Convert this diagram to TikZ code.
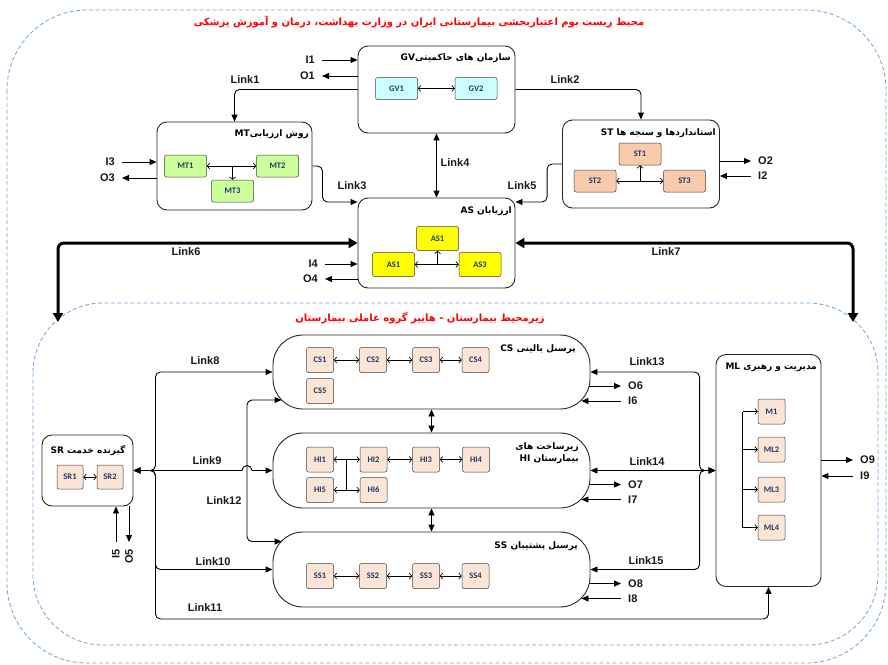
\documentclass[tikz,border=0pt]{standalone}
\usepackage{fontspec}
\setsansfont{Liberation Sans}
\newfontfamily\farsifont[Script=Arabic]{DejaVu Sans}
\newfontfamily\unitfont{Carlito}
\TeXXeTstate=1
\usetikzlibrary{arrows.meta,calc}
\definecolor{regionblue}{HTML}{6FA3DC}
\definecolor{unitnavy}{HTML}{1F3864}
\definecolor{gvcyan}{HTML}{CCFFFF}
\definecolor{mtgreen}{HTML}{CCFF99}
\definecolor{stpeach}{HTML}{F8CBAD}
\definecolor{unitpeach}{HTML}{FBE5D6}
\definecolor{asyellow}{HTML}{FFFF00}
\newcommand{\fatext}[1]{{\farsifont\bfseries\beginR #1\endR}}
\newcommand{\lrword}[1]{\beginL #1\endL}

\begin{document}
\begin{tikzpicture}[x=1pt,y=-1pt,
	region/.style={draw=regionblue,line width=0.8pt,dash pattern=on 4pt off 2.5pt},
	title/.style={text=red,inner sep=0pt,font=\fontsize{10}{12}\selectfont},
	bigbox/.style={draw=black!85,line width=0.9pt,rounded corners=10pt},
	hosbox/.style={bigbox,rounded corners=30pt,minimum width=317pt},
	unit/.style={draw=black!75,line width=0.5pt,rounded corners=2pt,inner sep=0pt,minimum width=27pt,minimum height=25pt,text=unitnavy,font=\unitfont\bfseries\fontsize{8.5}{9}\selectfont},
	wideunit/.style={unit,minimum width=42pt,minimum height=22pt},
	falabel/.style={anchor=east,inner sep=0pt,font=\fontsize{9}{12}\selectfont},
	lab/.style={font=\sffamily\bfseries\fontsize{11}{13}\selectfont,text=black!90,inner sep=1pt},
	link/.style={line width=0.9pt,rounded corners=5pt,-{Triangle[length=7pt,width=6pt]}},
	twolink/.style={link,{Triangle[length=7pt,width=6pt]}-{Triangle[length=7pt,width=6pt]}},
	biglink/.style={line width=3pt,rounded corners=6pt,{Triangle[length=9pt,width=10pt]}-{Triangle[length=9pt,width=10pt]}},
	io/.style={line width=0.9pt,-{Triangle[length=7pt,width=6pt]}},
	sub/.style={line width=0.7pt,{Straight Barb[length=2.5pt,width=6pt]}-{Straight Barb[length=2.5pt,width=6pt]}},
	subto/.style={line width=0.7pt,-{Straight Barb[length=2.5pt,width=6pt]}}]
	
	\useasboundingbox (0,0) rectangle (888,664);
	
	% Draw regions
	\draw[region,rounded corners=80pt] (7,10) rectangle (886,663);
	\draw[region,rounded corners=70pt] (33,303) rectangle (878,645);
	\node[title] (title1) at (419,22) {\fatext{محیط زیست بوم اعتباربخشی بیمارستانی ایران در وزارت بهداشت، درمان و آموزش پزشکی}};
	\node[title] (title2) at (420,318) {\fatext{زیرمحیط بیمارستان - هایپر گروه عاملی بیمارستان}};
	
	% Draw boxes
	\node[bigbox,minimum width=157pt,minimum height=87pt] (GV) at (436.5,89.5) {};
	\node[bigbox,minimum width=155pt,minimum height=88pt] (MT) at (234.5,166) {};
	\node[bigbox,minimum width=157pt,minimum height=88pt] (ST) at (641,164) {};
	\node[bigbox,minimum width=157pt,minimum height=90pt] (AS) at (436.5,243) {};
	\node[hosbox,minimum height=74pt] (CS) at (431.5,372) {};
	\node[hosbox,minimum height=75pt] (HI) at (431.5,470.5) {};
	\node[hosbox,minimum height=75pt] (SS) at (431.5,569.5) {};
	\node[bigbox,minimum width=91pt,minimum height=71pt] (SR) at (87.5,470.5) {};
	\node[bigbox,minimum width=105pt,minimum height=232pt] (ML) at (768.5,470.5) {};
	
	% Names of the boxes
	\node[falabel] (GVname) at (511,58) {\fatext{سازمان های حاکمیتی\lrword{GV}}};
	\node[falabel] (MTname) at (309,134) {\fatext{روش ارزیابی\lrword{MT}}};
	\node[falabel] (STname) at (716,133) {\fatext{استانداردها و سنجه ها \lrword{ST}}};
	\node[falabel] (ASname) at (512,211) {\fatext{ارزیابان \lrword{AS}}};
	\node[falabel] (CSname) at (576,349) {\fatext{پرسنل بالینی \lrword{CS}}};
	\node[falabel,align=right] (HIname) at (579,453) {\fatext{زیرساخت های}\\\fatext{بیمارستان \lrword{HI}}};
	\node[falabel] (SSname) at (578,546) {\fatext{پرسنل پشتیبان \lrword{SS}}};
	\node[falabel,anchor=center] (SRname) at (88,450) {\fatext{گیرنده خدمت \lrword{SR}}};
	\node[falabel] (MLname) at (817,367) {\fatext{مدیریت و رهبری \lrword{ML}}};
	
	% Draw units
	\node[wideunit,fill=gvcyan] (GV1) at (396.5,88.5) {GV1};
	\node[wideunit,fill=gvcyan] (GV2) at (476,88.5) {GV2};
	\node[wideunit,fill=mtgreen] (MT1) at (185.5,166) {MT1};
	\node[wideunit,fill=mtgreen] (MT2) at (277.5,166) {MT2};
	\node[wideunit,fill=mtgreen] (MT3) at (232.5,191) {MT3};
	\node[wideunit,fill=stpeach] (ST1) at (640,154) {ST1};
	\node[wideunit,fill=stpeach] (ST2) at (595,181) {ST2};
	\node[wideunit,fill=stpeach] (ST3) at (684.5,181) {ST3};
	\node[wideunit,fill=asyellow,minimum height=24pt] (ASa) at (437.5,238.5) {AS1};
	\node[wideunit,fill=asyellow,minimum height=24pt] (ASb) at (393.5,264.5) {AS1};
	\node[wideunit,fill=asyellow,minimum height=24pt] (ASc) at (480,264.5) {AS3};
	\node[unit,fill=unitpeach] (CS1) at (320,360) {CS1};
	\node[unit,fill=unitpeach] (CS2) at (373,360) {CS2};
	\node[unit,fill=unitpeach] (CS3) at (426,360) {CS3};
	\node[unit,fill=unitpeach] (CS4) at (475.5,360) {CS4};
	\node[unit,fill=unitpeach] (CS5) at (320,391) {CS5};
	\node[unit,fill=unitpeach] (HI1) at (320,459.5) {HI1};
	\node[unit,fill=unitpeach] (HI2) at (373.5,459.5) {HI2};
	\node[unit,fill=unitpeach] (HI3) at (426,459.5) {HI3};
	\node[unit,fill=unitpeach] (HI4) at (476,459.5) {HI4};
	\node[unit,fill=unitpeach] (HI5) at (320,490) {HI5};
	\node[unit,fill=unitpeach] (HI6) at (373.5,490) {HI6};
	\node[unit,fill=unitpeach] (SS1) at (320,576) {SS1};
	\node[unit,fill=unitpeach] (SS2) at (373,576) {SS2};
	\node[unit,fill=unitpeach] (SS3) at (426,576) {SS3};
	\node[unit,fill=unitpeach] (SS4) at (475.5,576) {SS4};
	\node[unit,fill=unitpeach,minimum width=26pt,minimum height=24pt] (SR1) at (70,477) {SR1};
	\node[unit,fill=unitpeach,minimum width=26pt,minimum height=24pt] (SR2) at (110,477) {SR2};
	\node[unit,fill=unitpeach] (M1) at (771.5,411.5) {M1};
	\node[unit,fill=unitpeach] (ML2) at (771.5,449.5) {ML2};
	\node[unit,fill=unitpeach] (ML3) at (771.5,489.5) {ML3};
	\node[unit,fill=unitpeach] (ML4) at (771.5,527.5) {ML4};
	
	% Arrows inside the boxes
	\draw[sub] (GV1) -- (GV2);
	\draw[sub] (MT1) -- (MT2);
	\draw[subto] (MT3.north |- MT1.east) -- (MT3.north);
	\draw[sub] (ST2) -- (ST3);
	\draw[subto] (ST1.south |- ST2.east) -- (ST1.south);
	\draw[sub] (ASb) -- (ASc);
	\draw[subto] (ASa.south |- ASb.east) -- (ASa.south);
	\foreach \a/\b in {CS1/CS2,CS2/CS3,CS3/CS4,HI1/HI2,HI2/HI3,HI3/HI4,HI5/HI6,SS1/SS2,SS2/SS3,SS3/SS4,SR1/SR2}
		\draw[sub] (\a) -- (\b);
	\draw[line width=0.7pt] ($(HI1.east)!0.5!(HI2.west)$) -- ($(HI5.east)!0.5!(HI6.west)$);
	\draw[line width=0.7pt] ([xshift=-15pt]M1.west) -- ([xshift=-15pt]ML4.west);
	\foreach \u in {M1,ML2,ML3,ML4}
		\draw[subto] ([xshift=-15pt]\u.west) -- (\u.west);
	
	% Draw links, upper part
	\draw[link] (GV.west) -| (MT.north);
	\node[lab] (Link1) at (245,80) {Link1};
	\draw[link] (GV.east) -| (ST.north);
	\node[lab] (Link2) at (565,80) {Link2};
	\draw[link] (MT.east) -- ++(10,0) |- ([yshift=41pt]AS.west);
	\node[lab] (Link3) at (352,186) {Link3};
	\draw[twolink] (GV.south) -- (AS.north);
	\node[lab] (Link4) at (455,163) {Link4};
	\draw[link] (ST.west) -- ++(-15,0) |- ([yshift=41pt]AS.east);
	\node[lab] (Link5) at (522,186) {Link5};
	\coordinate (l6end) at (58,322);
	\coordinate (l7end) at (853,322);
	\draw[biglink] (AS.west) -| (l6end);
	\node[lab] (Link6) at (186,252) {Link6};
	\draw[biglink] (AS.east) -| (l7end);
	\node[lab] (Link7) at (666,252) {Link7};
	
	% Draw links, hospital part
	\draw[twolink] (SR.east) -- ++(22,0) |- (CS.west);
	\node[lab] (Link8) at (205,361) {Link8};
	\draw[twolink,sharp corners] (SR.east) -- (242,470.5) arc[start angle=180,end angle=0,radius=5pt] -- (HI.west);
	\node[lab] (Link9) at (207,461) {Link9};
	\draw[twolink] (SR.east) -- ++(22,0) |- (SS.west);
	\node[lab] (Link10) at (213,562) {Link10};
	\draw[twolink] (SR.east) -- ++(22,0) |- ([yshift=-32pt]ML.south) -- (ML.south);
	\node[lab] (Link11) at (205,608) {Link11};
	\draw[twolink] ([xshift=9pt,yshift=-28pt]CS.west) -| (247,470.5) |- ([xshift=9pt,yshift=28pt]SS.west);
	\node[lab] (Link12) at (224,501) {Link12};
	\draw[twolink] (ML.west) -- ++(-16,0) |- (CS.east);
	\node[lab] (Link13) at (647,362) {Link13};
	\draw[twolink] (ML.west) -- (HI.east);
	\node[lab] (Link14) at (647,462) {Link14};
	\draw[twolink] (ML.west) -- ++(-16,0) |- (SS.east);
	\node[lab] (Link15) at (646,561) {Link15};
	\draw[twolink] (CS.south) -- (HI.north);
	\draw[twolink] (HI.south) -- (SS.north);
	
	% Inputs and outputs
	\node[lab,anchor=east] (I1) at (316,60) {I1};
	\draw[io,shorten <=6pt] (I1.east) -- (I1.east -| GV.west);
	\node[lab,anchor=east] (O1) at (316,76) {O1};
	\draw[io,shorten >=6pt] (O1.east -| GV.west) -- (O1.east);
	\node[lab,anchor=east] (I3) at (116,162) {I3};
	\draw[io,shorten <=6pt] (I3.east) -- (I3.east -| MT.west);
	\node[lab,anchor=east] (O3) at (116,178) {O3};
	\draw[io,shorten >=6pt] (O3.east -| MT.west) -- (O3.east);
	\node[lab,anchor=east] (I4) at (319,264) {I4};
	\draw[io,shorten <=6pt] (I4.east) -- (I4.east -| AS.west);
	\node[lab,anchor=east] (O4) at (319,279) {O4};
	\draw[io,shorten >=6pt] (O4.east -| AS.west) -- (O4.east);
	\node[lab,anchor=west] (O2) at (757,161) {O2};
	\draw[io,shorten >=6pt] (O2.west -| ST.east) -- (O2.west);
	\node[lab,anchor=west] (I2) at (757,176) {I2};
	\draw[io,shorten <=6pt] (I2.west) -- (I2.west -| ST.east);
	\node[lab,anchor=west] (O9) at (859,460) {O9};
	\draw[io,shorten >=6pt] (O9.west -| ML.east) -- (O9.west);
	\node[lab,anchor=west] (I9) at (859,476) {I9};
	\draw[io,shorten <=6pt] (I9.west) -- (I9.west -| ML.east);
	\node[lab,anchor=west] (O6) at (627,386) {O6};
	\draw[io,shorten >=6pt] ([xshift=-1pt,yshift=-14pt]CS.east) -- (O6.west);
	\node[lab,anchor=west] (I6) at (627,401) {I6};
	\draw[io,shorten <=6pt] (I6.west) -- ([xshift=-9pt,yshift=-29pt]CS.east);
	\node[lab,anchor=west] (O7) at (627,484.5) {O7};
	\draw[io,shorten >=6pt] ([xshift=-1pt,yshift=-14pt]HI.east) -- (O7.west);
	\node[lab,anchor=west] (I7) at (627,499.5) {I7};
	\draw[io,shorten <=6pt] (I7.west) -- ([xshift=-9pt,yshift=-29pt]HI.east);
	\node[lab,anchor=west] (O8) at (627,583.5) {O8};
	\draw[io,shorten >=6pt] ([xshift=-1pt,yshift=-14pt]SS.east) -- (O8.west);
	\node[lab,anchor=west] (I8) at (627,598.5) {I8};
	\draw[io,shorten <=6pt] (I8.west) -- ([xshift=-9pt,yshift=-29pt]SS.east);
	\node[lab,rotate=90,anchor=east] (I5) at (116,548) {I5};
	\draw[io,shorten <=6pt] (I5.east) -- (I5.east |- SR.south);
	\node[lab,rotate=90,anchor=east] (O5) at (129,548) {O5};
	\draw[io,shorten >=6pt] (O5.east |- SR.south) -- (O5.east);
	
\end{tikzpicture}
\end{document}
